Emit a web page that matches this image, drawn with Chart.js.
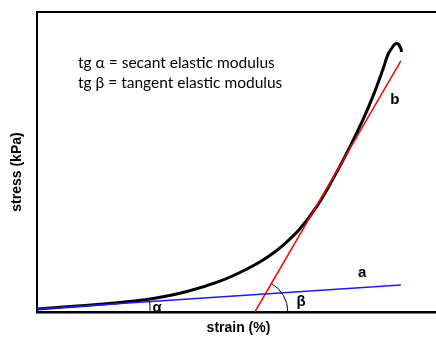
<!DOCTYPE html>
<html>
<head>
<meta charset="utf-8">
<script src="https://cdn.jsdelivr.net/npm/chart.js@4/dist/chart.umd.min.js"></script>
<style>
  html, body { margin: 0; padding: 0; background: #fff; }
  #wrap { width: 436px; height: 338px; }
</style>
</head>
<body>
<div id="wrap"><canvas id="c" width="436" height="338"></canvas></div>
<script>
// Stress-strain curve (arbitrary units, 0-100 on both axes)
const curveStrain = [0, 8.27, 15.79, 20.8, 28.32, 37.59, 45.86, 52.63, 57.64, 61.65, 65.91, 70.18, 74.19, 78.45, 81.7, 84.21, 86.72, 87.97, 88.97, 89.72, 90.48, 91.23, 91.35];
const curveStress = [1.0, 1.83, 2.57, 3.17, 4.33, 6.83, 10.27, 14.33, 18.2, 22.23, 27.73, 35.3, 44.37, 55.13, 64.13, 71.97, 80.97, 85.87, 88.0, 89.33, 89.33, 87.67, 86.67];

// Secant line (a) from the origin
const secantStrain = [0, 91.2];
const secantStress = [1.0, 9.0];

// Tangent line (b) touching the curve
const tangentStrain = [54.6, 91.2];
const tangentStress = [0, 83.7];

const legendLines = ['tg \u03B1 = secant elastic modulus', 'tg \u03B2 = tangent elastic modulus'];
const xTitle = 'strain (%)';
const yTitle = 'stress (kPa)';

const toPoints = (xs, ys) => xs.map((x, i) => ({ x, y: ys[i] }));

const decorations = {
  id: 'decorations',
  afterDatasetsDraw(chart) {
    const { ctx, chartArea: area, scales: { x, y } } = chart;
    ctx.save();

    // top frame line
    ctx.strokeStyle = '#000';
    ctx.lineWidth = 2;
    ctx.beginPath();
    ctx.moveTo(area.left - 1, area.top);
    ctx.lineTo(area.right + 2, area.top);
    ctx.stroke();

    // angle alpha: between secant line and strain axis
    const ax = x.getPixelForValue(secantStrain[0]);
    const ay = y.getPixelForValue(secantStress[0]);
    const sx = x.getPixelForValue(secantStrain[1]);
    const sy = y.getPixelForValue(secantStress[1]);
    const aAng = Math.atan2(sy - ay, sx - ax);
    const rA = 113;
    const aEnd = Math.asin((area.bottom - ay) / rA);
    ctx.lineWidth = 1;
    ctx.beginPath();
    ctx.arc(ax, ay, rA, aAng, aEnd);
    ctx.stroke();

    // angle beta: between tangent line and strain axis
    const bx = x.getPixelForValue(tangentStrain[0]);
    const by = y.getPixelForValue(tangentStress[0]);
    const tx = x.getPixelForValue(tangentStrain[1]);
    const ty = y.getPixelForValue(tangentStress[1]);
    const bAng = Math.atan2(ty - by, tx - bx);
    ctx.beginPath();
    ctx.arc(bx, by, 33, bAng, 0);
    ctx.stroke();

    // letters
    ctx.fillStyle = '#000';
    ctx.font = 'bold 15px "Liberation Sans", Arial, sans-serif';
    ctx.textAlign = 'center';
    ctx.textBaseline = 'middle';
    ctx.fillText('\u03B1', x.getPixelForValue(30.1), y.getPixelForValue(1.3));
    ctx.fillText('\u03B2', x.getPixelForValue(66.2), y.getPixelForValue(3.5));
    ctx.fillText('a', x.getPixelForValue(81.5), y.getPixelForValue(13.0));
    ctx.fillText('b', x.getPixelForValue(89.7), y.getPixelForValue(70.7));

    // definitions
    ctx.font = '15.5px Lato, "Open Sans", sans-serif';
    ctx.textAlign = 'left';
    ctx.fillText(legendLines[0], 78, 63);
    ctx.fillText(legendLines[1], 78, 83);

    // axis titles
    ctx.font = 'bold 14px "Liberation Sans", Arial, sans-serif';
    ctx.textAlign = 'center';
    ctx.fillText(xTitle, (area.left + 440) / 2, 328);
    ctx.translate(17, 172);
    ctx.rotate(-Math.PI / 2);
    ctx.fillText(yTitle, 0, 0);

    ctx.restore();
  }
};

new Chart(document.getElementById('c'), {
  type: 'scatter',
  data: {
    datasets: [
      {
        data: toPoints(curveStrain, curveStress),
        showLine: true, borderColor: '#000', borderWidth: 3,
        pointRadius: 0, tension: 0.4, order: 1
      },
      {
        data: toPoints(secantStrain, secantStress),
        showLine: true, borderColor: '#1a1aff', borderWidth: 1.5,
        pointRadius: 0, order: 0
      },
      {
        data: toPoints(tangentStrain, tangentStress),
        showLine: true, borderColor: '#ff0000', borderWidth: 1.5,
        pointRadius: 0, order: 0
      }
    ]
  },
  options: {
    responsive: false,
    animation: false,
    devicePixelRatio: 1,
    layout: { padding: { top: 12, left: 0, right: 0, bottom: 0 } },
    plugins: { legend: { display: false }, tooltip: { enabled: false } },
    scales: {
      x: {
        type: 'linear', min: 0, max: 100,
        grid: { display: false, drawTicks: false },
        border: { display: true, color: '#000', width: 2.5 },
        ticks: { display: false },
        afterFit: s => { s.height = 26; }
      },
      y: {
        type: 'linear', min: 0, max: 100,
        grid: { display: false, drawTicks: false },
        border: { display: true, color: '#000', width: 2 },
        ticks: { display: false },
        afterFit: s => { s.width = 37; }
      }
    }
  },
  plugins: [decorations]
});
</script>
</body>
</html>
